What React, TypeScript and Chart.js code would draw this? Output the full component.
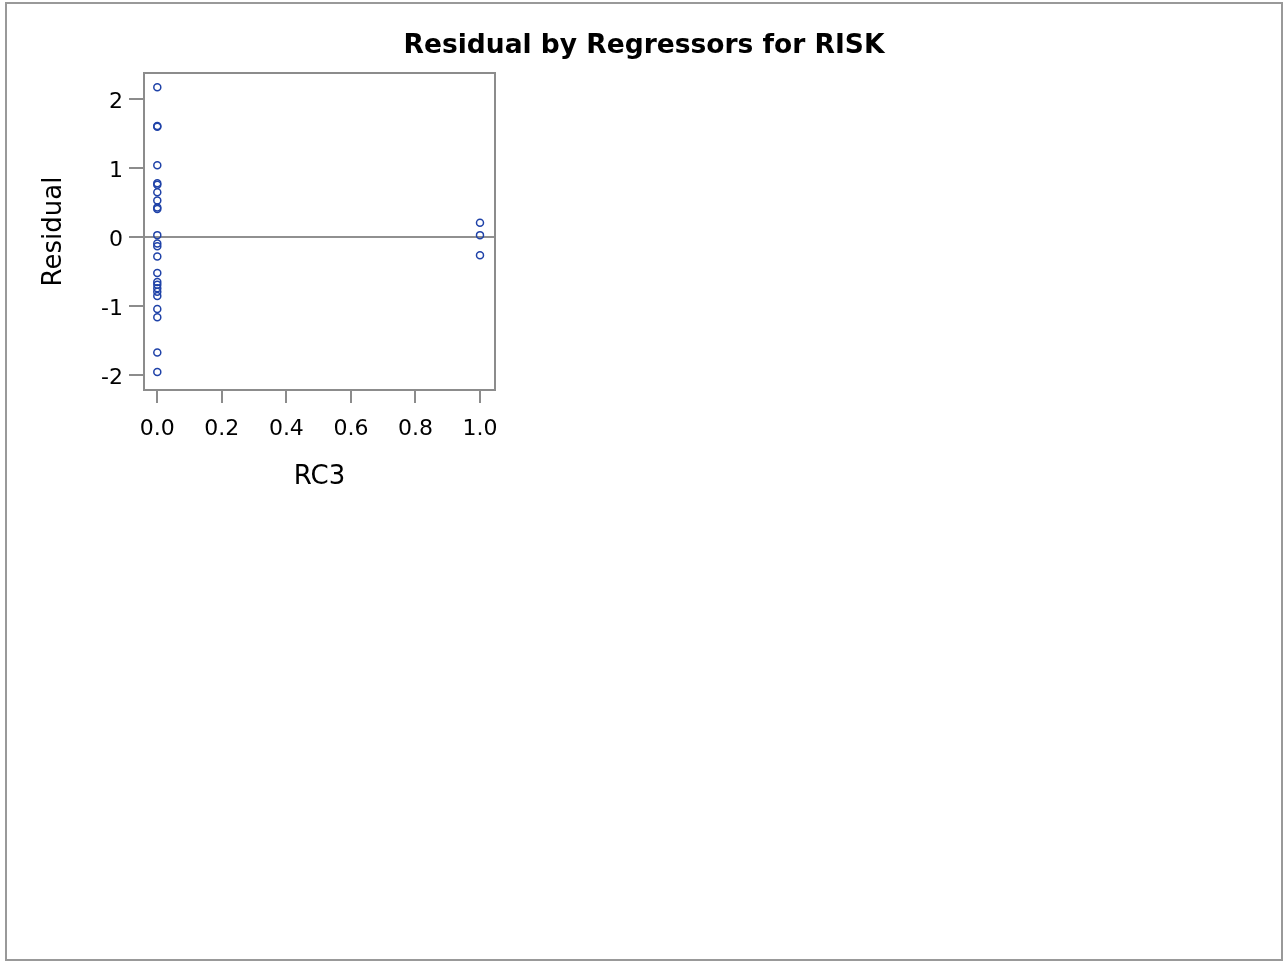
import React, { useEffect, useRef } from "react";
import { Chart, registerables } from "chart.js";

Chart.register(...registerables);

// Text
const chartTitle = "Residual by Regressors for RISK";
const xAxisTitle = "RC3";
const yAxisTitle = "Residual";

// Tick values
const xTickValues = [0, 0.2, 0.4, 0.6, 0.8, 1.0];
const yTickValues = [-2, -1, 0, 1, 2];

// Residuals grouped by the value of the regressor RC3
const residualsRc3Zero = [
  2.17, 1.61, 1.6, 1.04, 0.78, 0.76, 0.65, 0.53, 0.43, 0.41, 0.03, -0.09, -0.13,
  -0.28, -0.52, -0.65, -0.69, -0.74, -0.79, -0.85, -1.04, -1.16, -1.67, -1.95,
];
const residualsRc3One = [0.21, 0.03, -0.26];

const FONT = "'DejaVu Sans', Verdana, sans-serif";
const AXIS_GRAY = "#8c8c8c";
const MARKER_BLUE = "#1f42a8";

// Frame around the plot area and a centred title over the whole canvas
const framePlugin = {
  id: "plotFrame",
  afterDraw(chart: any) {
    const { ctx, chartArea } = chart;
    ctx.save();
    ctx.strokeStyle = AXIS_GRAY;
    ctx.lineWidth = 2;
    ctx.strokeRect(
      chartArea.left,
      chartArea.top,
      chartArea.right - chartArea.left,
      chartArea.bottom - chartArea.top
    );
    ctx.fillStyle = "#000";
    ctx.font = `bold 26.5px ${FONT}`;
    ctx.textAlign = "center";
    ctx.textBaseline = "alphabetic";
    ctx.fillText(chartTitle, chart.width / 2, 49);
    ctx.restore();
  },
};

export default function App() {
  const canvasRef = useRef<HTMLCanvasElement | null>(null);

  useEffect(() => {
    document.body.style.margin = "0";
    const canvas = canvasRef.current;
    if (!canvas) return;

    const points = [
      ...residualsRc3Zero.map((r) => ({ x: 0, y: r })),
      ...residualsRc3One.map((r) => ({ x: 1, y: r })),
    ];

    const chart = new Chart(canvas, {
      type: "scatter",
      data: {
        datasets: [
          {
            data: points,
            pointStyle: "circle",
            pointRadius: 3.5,
            pointBorderWidth: 1.5,
            pointBorderColor: MARKER_BLUE,
            pointBackgroundColor: "rgba(0,0,0,0)",
          },
        ],
      },
      options: {
        responsive: false,
        animation: false,
        devicePixelRatio: 1,
        layout: { padding: { top: 69, left: 0, right: 786, bottom: 449 } },
        plugins: {
          legend: { display: false },
          title: { display: false },
          tooltip: { enabled: false },
        },
        scales: {
          x: {
            type: "linear",
            min: -0.0412,
            max: 1.0465,
            afterBuildTicks: (scale: any) => {
              scale.ticks = xTickValues.map((v) => ({ value: v }));
            },
            afterFit: (scale: any) => {
              scale.height = 120;
            },
            border: { display: false },
            grid: {
              drawOnChartArea: false,
              tickLength: 13,
              tickColor: AXIS_GRAY,
              lineWidth: 2,
            },
            ticks: {
              font: { family: FONT, size: 22 },
              color: "#000",
              padding: 13,
              maxRotation: 0,
              callback: (v: any) => Number(v).toFixed(1),
            },
            title: {
              display: true,
              text: xAxisTitle,
              font: { family: FONT, size: 26 },
              color: "#000",
              padding: { top: 0, bottom: 17 },
            },
          },
          y: {
            type: "linear",
            min: -2.212,
            max: 2.377,
            afterBuildTicks: (scale: any) => {
              scale.ticks = yTickValues.map((v) => ({ value: v }));
            },
            afterFit: (scale: any) => {
              scale.width = 137;
            },
            border: { display: false },
            grid: {
              drawOnChartArea: true,
              color: (c: any) => (c.tick && c.tick.value === 0 ? "#909090" : "rgba(0,0,0,0)"),
              tickColor: AXIS_GRAY,
              tickLength: 15,
              lineWidth: 2,
            },
            ticks: {
              font: { family: FONT, size: 22 },
              color: "#000",
              padding: 6,
              labelOffset: 3,
              callback: (v: any) => String(v),
            },
            title: {
              display: true,
              text: yAxisTitle,
              font: { family: FONT, size: 26 },
              color: "#000",
              padding: { top: 32, bottom: 0 },
            },
          },
        },
      },
      plugins: [framePlugin],
    });

    return () => chart.destroy();
  }, []);

  return (
    <div
      style={{
        position: "absolute",
        left: 5,
        top: 2,
        width: 1278,
        height: 959,
        border: "2px solid #999",
        boxSizing: "border-box",
        background: "#fff",
      }}
    >
      <canvas ref={canvasRef} width={1274} height={955} style={{ display: "block" }} />
    </div>
  );
}
